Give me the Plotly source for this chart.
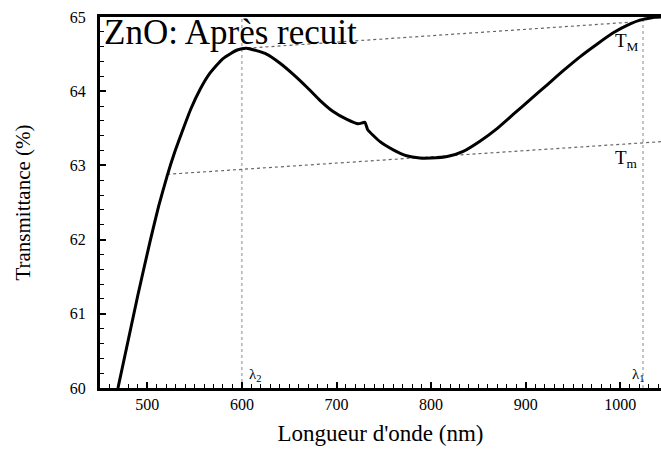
import plotly.graph_objects as go

# Transmittance curve
wavelength = [469, 490, 503, 512, 521, 529, 537, 546, 556, 566, 580, 595, 605,
              626, 640, 654, 669, 683, 696, 711, 723, 730, 733, 746, 760, 774, 788,
              800, 817, 834, 852, 870, 887, 905, 923, 940, 958, 976, 993, 1011, 1020,
              1029, 1036, 1043]
transmittance = [60.0, 61.25, 61.98, 62.45, 62.86, 63.18, 63.46, 63.76, 64.03, 64.24,
                 64.44, 64.555, 64.58,
                 64.50, 64.38, 64.23, 64.05, 63.87, 63.73, 63.62, 63.56, 63.58, 63.48,
                 63.32, 63.21, 63.13, 63.10, 63.10, 63.12, 63.19, 63.33, 63.50, 63.69,
                 63.89, 64.09, 64.28, 64.47, 64.64, 64.79, 64.91, 64.955, 64.98, 64.995,
                 65.0]

# Envelope lines
TM_x = [606, 1011]
TM_y = [64.58, 64.93]
Tm_x = [521, 1043]
Tm_y = [62.88, 63.32]

# Vertical markers (lambda 2, lambda 1)
lam2 = 600
lam1 = 1024

FONT = "Liberation Serif, DejaVu Serif, serif"

fig = go.Figure()

fig.add_trace(go.Scatter(x=[lam2, lam2], y=[60, 65], mode="lines",
                         line=dict(color="#8a8a8a", width=1, dash="dot"), hoverinfo="skip"))
fig.add_trace(go.Scatter(x=[lam1, lam1], y=[60, 65], mode="lines",
                         line=dict(color="#8a8a8a", width=1, dash="dot"), hoverinfo="skip"))
fig.add_trace(go.Scatter(x=TM_x, y=TM_y, mode="lines",
                         line=dict(color="#666666", width=1.2, dash="dot")))
fig.add_trace(go.Scatter(x=Tm_x, y=Tm_y, mode="lines",
                         line=dict(color="#666666", width=1.2, dash="dot")))
fig.add_trace(go.Scatter(x=wavelength, y=transmittance, mode="lines",
                         line=dict(color="black", width=3, shape="spline", smoothing=0.5)))

fig.add_annotation(x=0.003, y=1.015, xref="paper", yref="paper", xanchor="left", yanchor="top",
                   text="ZnO: Après recuit", showarrow=False,
                   font=dict(family=FONT, size=35, color="black"))
fig.add_annotation(x=992, y=64.66, text="T<sub>M</sub>", showarrow=False, xanchor="left",
                   font=dict(family=FONT, size=19, color="black"))
fig.add_annotation(x=992, y=63.08, text="T<sub>m</sub>", showarrow=False, xanchor="left",
                   font=dict(family=FONT, size=19, color="black"))
fig.add_annotation(x=lam2 + 14, y=60.17, text="λ<sub>2</sub>", showarrow=False,
                   font=dict(family=FONT, size=15, color="black"))
fig.add_annotation(x=lam1 - 5, y=60.17, text="λ<sub>1</sub>", showarrow=False,
                   font=dict(family=FONT, size=15, color="black"))

fig.update_layout(
    width=661, height=453,
    margin=dict(l=100, r=0, t=17, b=65),
    paper_bgcolor="white", plot_bgcolor="white",
    showlegend=False,
    font=dict(family=FONT, color="black"),
    xaxis=dict(range=[450, 1043], tick0=500, dtick=100,
               ticks="inside", ticklen=6, tickwidth=1.5, tickcolor="black",
               minor=dict(tick0=500, dtick=10, ticks="inside", ticklen=4,
                          tickcolor="black", tickwidth=1.2),
               showline=True, linewidth=3, linecolor="black", mirror=True,
               showgrid=False, zeroline=False,
               tickfont=dict(family=FONT, size=16),
               title=dict(text="Longueur d'onde (nm)", font=dict(family=FONT, size=23),
                          standoff=13)),
    yaxis=dict(range=[60, 65], tick0=60, dtick=1,
               ticks="inside", ticklen=6, tickwidth=1.5, tickcolor="black",
               minor=dict(tick0=60, dtick=0.2, ticks="inside", ticklen=4,
                          tickcolor="black", tickwidth=1.2),
               showline=True, linewidth=3, linecolor="black", mirror=False,
               showgrid=False, zeroline=False,
               ticklabelstandoff=8,
               tickfont=dict(family=FONT, size=16),
               title=dict(text="Transmittance (%)", font=dict(family=FONT, size=21),
                          standoff=34)),
)

fig.write_html("out.html")
